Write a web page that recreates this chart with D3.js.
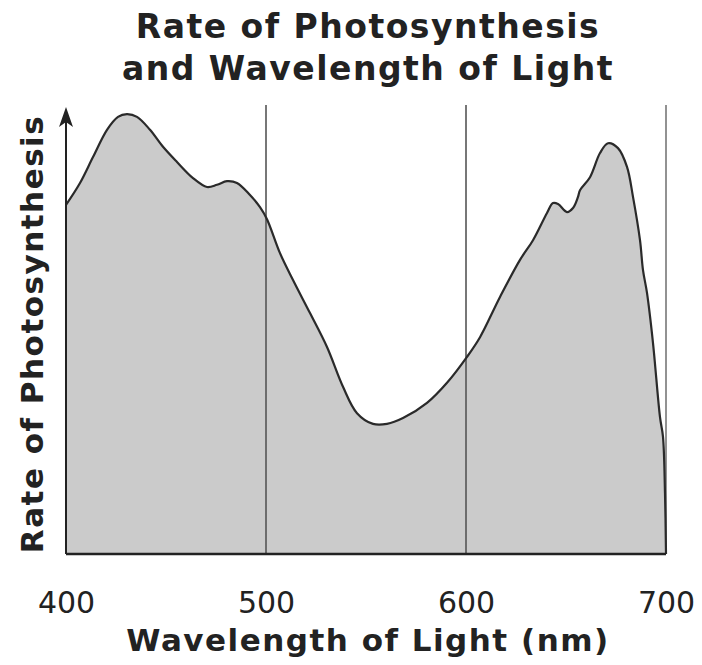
<!DOCTYPE html>
<html>
<head>
<meta charset="utf-8">
<script src="https://cdn.jsdelivr.net/npm/d3@7"></script>
<style>
  body { margin: 0; background: #fff; }
  text { font-family: "DejaVu Sans", Verdana, sans-serif; fill: #222; }
  .title, .axis-title { font-weight: bold; }
</style>
</head>
<body>
<svg class="chart"></svg>
<script>
// wavelength (nm) and relative rate of photosynthesis
const wavelengths = [400, 407, 413.5, 420.5, 426, 430.5, 435.5, 442, 448.5, 455.5, 463.5, 470.5, 475.5, 480.5, 485.5, 492, 497, 500.5,
  507, 513.5, 522, 530.5, 538.5, 545.5, 553.5, 560.5, 568.5, 580.5, 590.5, 600.5, 607, 617, 627, 633.5, 640.5, 643.5, 646,
  650.5, 653.5, 656, 657, 662, 667, 671, 676, 680.5, 683.5, 687, 688.5, 690.5, 693.5, 697, 698.5, 699.5, 700];
const rates = [78.1, 83.0, 88.8, 94.9, 97.8, 98.4, 97.8, 94.9, 91.1, 87.7, 84.1, 82.1, 82.6, 83.4, 83.0, 80.3, 77.6, 74.9,
  67.3, 61.3, 53.9, 46.3, 37.4, 31.5, 29.1, 29.1, 30.4, 33.8, 38.3, 44.1, 48.5, 57.5, 65.8, 70.2, 76.3, 78.5, 78.3,
  76.5, 77.4, 79.9, 81.4, 84.3, 89.7, 91.9, 90.8, 86.6, 79.9, 70.2, 63.5, 58.4, 47.2, 30.6, 26.2, 13.6, 0];
const xTicks = [400, 500, 600, 700];
const gridLines = [500, 600, 700];
const titleLines = ["Rate of Photosynthesis", "and Wavelength of Light"];
const xLabel = "Wavelength of Light (nm)";
const yLabel = "Rate of Photosynthesis";

let width = 702, height = 665;
let margin = {top: 107, right: 36, bottom: 111, left: 66};
let innerW = width - margin.left - margin.right;
let innerH = height - margin.top - margin.bottom;

const data = wavelengths.map((w, i) => ({w: w, r: rates[i]}));

let svg = d3.select(".chart").attr("width", width).attr("height", height);
let chart = svg.append("g").attr("transform", "translate(" + margin.left + "," + margin.top + ")");

let x = d3.scaleLinear().domain([400, 700]).range([0, innerW]);
let y = d3.scaleLinear().domain([0, 100]).range([innerH, 0]);

/* filled curve */
let curve = d3.curveCatmullRom.alpha(0.5);
let area = d3.area().x(d => x(d.w)).y0(innerH).y1(d => y(d.r)).curve(curve);
let line = d3.line().x(d => x(d.w)).y(d => y(d.r)).curve(curve);

chart.append("path").datum(data).attr("d", area).attr("fill", "#cbcbcb");

/* vertical reference lines */
chart.selectAll(".vline").data(gridLines).enter().append("line")
  .attr("class", "vline")
  .attr("x1", d => x(d)).attr("x2", d => x(d))
  .attr("y1", -2).attr("y2", innerH)
  .attr("stroke", d => d === 700 ? "#777" : "#555").attr("stroke-width", 1.6);

chart.append("path").datum(data).attr("d", line)
  .attr("fill", "none").attr("stroke", "#2a2a2a").attr("stroke-width", 2.2);

/* axes */
chart.append("line")
  .attr("x1", 0).attr("x2", innerW).attr("y1", innerH).attr("y2", innerH)
  .attr("stroke", "#222").attr("stroke-width", 2.6);

chart.append("line")
  .attr("x1", 0).attr("x2", 0).attr("y1", innerH).attr("y2", 12)
  .attr("stroke", "#222").attr("stroke-width", 2);
chart.append("path")
  .attr("d", "M0,0 L-7,20 L0,15 L7,20 Z")
  .attr("fill", "#222");

let xAxis = d3.axisBottom(x).tickValues(xTicks).tickSize(0).tickPadding(0);
let gx = chart.append("g").attr("transform", "translate(0," + innerH + ")").call(xAxis);
gx.select(".domain").remove();
gx.selectAll("text")
  .attr("dy", null).attr("y", 59)
  .style("font-size", "30px").style("font-family", "'DejaVu Sans', sans-serif").attr("fill", "#333");

/* titles */
svg.selectAll(".title").data(titleLines).enter().append("text")
  .attr("class", "title")
  .attr("x", 368).attr("y", (d, i) => 38 + i * 42)
  .attr("text-anchor", "middle")
  .style("font-size", "33px")
  .style("letter-spacing", "1.5px")
  .text(d => d);

svg.append("text").attr("class", "axis-title")
  .attr("x", 368).attr("y", 651)
  .attr("text-anchor", "middle")
  .style("font-size", "31px")
  .style("letter-spacing", "1.5px")
  .text(xLabel);

svg.append("text").attr("class", "axis-title")
  .attr("transform", "translate(43,334) rotate(-90)")
  .attr("text-anchor", "middle")
  .style("font-size", "31px")
  .style("letter-spacing", "1.5px")
  .text(yLabel);
</script>
</body>
</html>
